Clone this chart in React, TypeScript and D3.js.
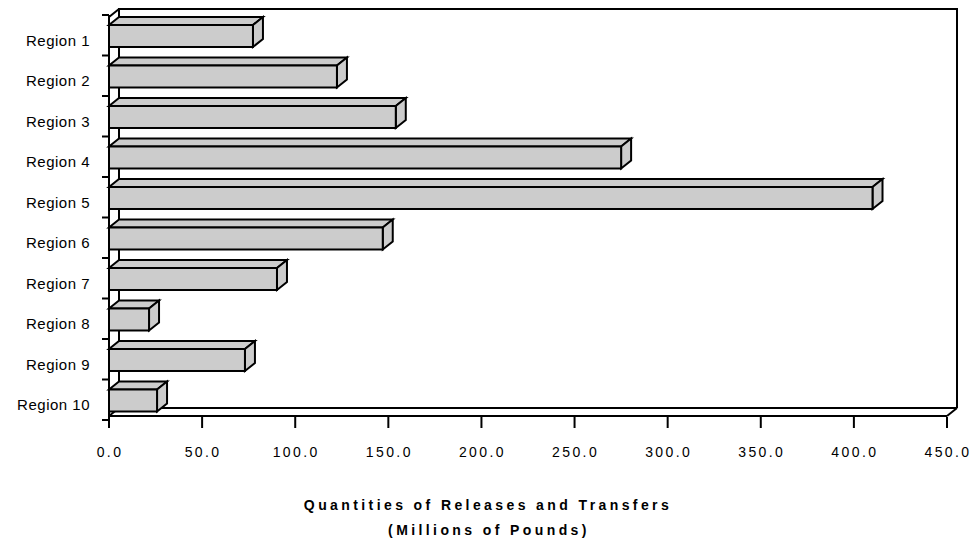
import React from "react";
import * as d3 from "d3";

const W = 971;
const H = 541;

const regions = ["Region 1", "Region 2", "Region 3", "Region 4", "Region 5", "Region 6", "Region 7", "Region 8", "Region 9", "Region 10"];
const quantities = [77.3, 122.4, 154.0, 275.0, 410.0, 147.0, 90.2, 21.5, 73.0, 25.8];
const xTicks = [0, 50, 100, 150, 200, 250, 300, 350, 400, 450];
const titleLines = ["Quantities of Releases and Transfers", "(Millions of Pounds)"];

// 3D depth offset
const DX = 10;
const DY = 8;

const X0 = 109;
const X1 = 947;
const TOP = 17;
const FLOOR = 416;
const FONT = "'Liberation Sans', Arial, Helvetica, sans-serif";

export default function App() {
  const x = d3.scaleLinear().domain([0, 450]).range([X0, X1]);
  const y = d3.scaleBand().domain(regions).range([15, 420]).padding(0);
  const bw = y.bandwidth();

  const pts = (p: [number, number][]) => p.map((d) => d.join(",")).join(" ");

  const bars = regions.map((r, i) => {
    const b = y(r) as number;
    const yTop = b + bw * 0.247;
    const yBot = yTop + bw * 0.543;
    const xa = x(0);
    const xb = x(quantities[i]);
    return (
      <g key={r} fill="#cccccc" stroke="#000" strokeWidth={2} strokeLinejoin="miter">
        <polygon points={pts([[xa, yTop], [xa + DX, yTop - DY], [xb + DX, yTop - DY], [xb, yTop]])} />
        <polygon points={pts([[xb, yTop], [xb + DX, yTop - DY], [xb + DX, yBot - DY], [xb, yBot]])} />
        <rect x={xa} y={yTop} width={xb - xa} height={yBot - yTop} />
      </g>
    );
  });

  return (
    <svg width={W} height={H} style={{ position: "absolute", left: 0, top: 0, background: "#fff" }} fontFamily={FONT}>
      {/* walls and floor */}
      <g fill="none" stroke="#000" strokeWidth={2}>
        <polyline points={pts([[X0 + DX, FLOOR - DY], [X0 + DX, TOP - DY], [X1 + DX, TOP - DY], [X1 + DX, FLOOR - DY]])} />
        <line x1={X0 + DX} x2={X1 + DX} y1={FLOOR - DY} y2={FLOOR - DY} />
        <line x1={X0} x2={X1} y1={FLOOR} y2={FLOOR} />
        <line x1={X1} x2={X1 + DX} y1={FLOOR} y2={FLOOR - DY} />
        <line x1={X0} x2={X0 + DX} y1={FLOOR} y2={FLOOR - DY} />
        <line x1={X0} x2={X0 + DX} y1={TOP} y2={TOP - DY} />
        <line x1={X0} x2={X0} y1={15} y2={421} />
      </g>

      {/* category ticks */}
      <g stroke="#000" strokeWidth={2}>
        {[...regions.map((r) => y(r) as number), 420].map((v, i) => (
          <line key={i} x1={X0 - 7} x2={X0} y1={v} y2={v} />
        ))}
      </g>

      {bars}

      {/* category labels */}
      <g fontSize={15} textAnchor="end" fill="#000">
        {regions.map((r) => (
          <text key={r} x={90} y={(y(r) as number) + 30.5} letterSpacing={0.5}>
            {r}
          </text>
        ))}
      </g>

      {/* value axis */}
      <g stroke="#000" strokeWidth={2}>
        {xTicks.map((t) => (
          <line key={t} x1={x(t)} x2={x(t)} y1={417} y2={428} />
        ))}
      </g>
      <g fontSize={14} textAnchor="middle" fill="#000">
        {xTicks.map((t) => (
          <text key={t} x={x(t) + 1} y={457} letterSpacing={2.4}>
            {t.toFixed(1)}
          </text>
        ))}
      </g>

      <g fontSize={14} fontWeight="bold" textAnchor="middle" fill="#000">
        <text x={488} y={510} letterSpacing={3.4}>{titleLines[0]}</text>
        <text x={489} y={535} letterSpacing={3.4}>{titleLines[1]}</text>
      </g>
    </svg>
  );
}
